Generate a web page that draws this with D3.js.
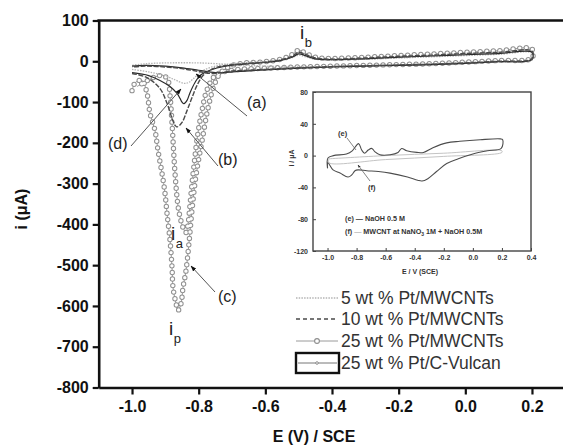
<!DOCTYPE html>
<html><head><meta charset="utf-8">
<script src="https://cdn.jsdelivr.net/npm/d3@7"></script>
<style>
html,body{margin:0;padding:0;background:#fff;}
svg{display:block;font-family:"Liberation Sans",Arial,sans-serif;}
</style></head>
<body>
<svg id="chart" width="563" height="448"></svg>
<script>
// ---------- DATA (E in V vs SCE, i in µA) ----------
const xTicks = [-1.0, -0.8, -0.6, -0.4, -0.2, 0.0, 0.2];
const yTicks = [-800, -700, -600, -500, -400, -300, -200, -100, 0, 100];
const legendLabels = ["5 wt % Pt/MWCNTs", "10 wt % Pt/MWCNTs", "25 wt % Pt/MWCNTs", "25 wt % Pt/C-Vulcan"];

// (a) 5 wt % Pt/MWCNTs
const curveA = [[-1.0,-20],[-0.95,-26],[-0.9,-36],[-0.87,-46],[-0.845,-54],[-0.83,-52],[-0.81,-38],[-0.79,-24],[-0.76,-14],[-0.72,-8],[-0.65,-3],[-0.6,-1],[-0.55,3],[-0.52,9],[-0.5,15],[-0.48,11],[-0.45,5],[-0.4,3],[-0.3,5],[-0.2,8],[-0.1,11],[0.0,14],[0.1,17],[0.2,20],
  [0.2,3],[0.1,-2],[0.0,-5],[-0.1,-8],[-0.2,-10],[-0.3,-12],[-0.4,-13],[-0.5,-14],[-0.6,-12],[-0.7,-8],[-0.8,-4],[-0.9,-4],[-0.96,-6],[-1.0,-10]];
// (b) 10 wt % Pt/MWCNTs
const curveB = [[-1.0,-30],[-0.955,-40],[-0.916,-67],[-0.895,-103],[-0.88,-140],[-0.871,-157],[-0.865,-161],[-0.85,-150],[-0.835,-121],[-0.82,-89],[-0.805,-59],[-0.787,-35],[-0.757,-18],[-0.715,-10],[-0.65,-5],[-0.6,-2],[-0.55,4],[-0.52,12],[-0.5,22],[-0.48,17],[-0.45,8],[-0.4,5],[-0.3,8],[-0.2,12],[-0.1,15],[0.0,19],[0.1,22],[0.2,25],
  [0.2,6],[0.1,0],[0.0,-4],[-0.1,-7],[-0.2,-9],[-0.3,-11],[-0.4,-13],[-0.5,-16],[-0.6,-20],[-0.7,-24],[-0.76,-30],[-0.8,-25],[-0.85,-18],[-0.9,-14],[-0.96,-12],[-1.0,-14]];
// (c) 25 wt % Pt/MWCNTs
const curveC = [[-1.0,-72],[-0.99,-52],[-0.97,-47],[-0.955,-79],[-0.946,-128],[-0.931,-170],[-0.922,-219],[-0.91,-275],[-0.901,-324],[-0.895,-373],[-0.886,-439],[-0.88,-506],[-0.877,-555],[-0.868,-594],[-0.862,-611],[-0.853,-594],[-0.847,-555],[-0.838,-513],[-0.829,-445],[-0.82,-365],[-0.808,-280],[-0.79,-196],[-0.772,-115],[-0.754,-60],[-0.736,-30],[-0.706,-12],[-0.66,-4],[-0.6,-1],[-0.55,6],[-0.52,16],[-0.5,27],[-0.48,20],[-0.45,10],[-0.4,7],[-0.3,10],[-0.2,14],[-0.1,18],[0.0,22],[0.1,26],[0.2,30],
  [0.2,8],[0.1,2],[0.0,-2],[-0.1,-6],[-0.2,-8],[-0.3,-10],[-0.4,-12],[-0.5,-14],[-0.6,-17],[-0.7,-22],[-0.75,-35],[-0.775,-70],[-0.79,-120],[-0.803,-180],[-0.812,-240],[-0.82,-300],[-0.827,-360],[-0.832,-400],[-0.838,-420],[-0.847,-408],[-0.855,-385],[-0.862,-355],[-0.871,-275],[-0.88,-152],[-0.886,-84],[-0.892,-47],[-0.905,-35],[-0.93,-38],[-0.96,-50],[-0.985,-62]];
// (d) 25 wt % Pt/C-Vulcan
const curveD = [[-1.0,-28],[-0.95,-35],[-0.916,-47],[-0.886,-62],[-0.865,-79],[-0.856,-91],[-0.85,-100],[-0.844,-104],[-0.835,-96],[-0.826,-77],[-0.811,-52],[-0.796,-35],[-0.766,-22],[-0.72,-12],[-0.65,-6],[-0.6,-3],[-0.55,3],[-0.52,10],[-0.5,18],[-0.48,14],[-0.45,6],[-0.4,4],[-0.3,6],[-0.2,10],[-0.1,13],[0.0,16],[0.1,19],[0.2,22],
  [0.2,4],[0.1,-1],[0.0,-5],[-0.1,-8],[-0.2,-10],[-0.3,-12],[-0.4,-14],[-0.5,-17],[-0.6,-21],[-0.7,-26],[-0.75,-28],[-0.8,-22],[-0.85,-16],[-0.9,-12],[-0.96,-10],[-1.0,-12]];

// Inset
const insetXTicks = [-1.0, -0.8, -0.6, -0.4, -0.2, 0.0, 0.2, 0.4];
const insetYTicks = [-120, -80, -40, 0, 40, 80];
// (e) NaOH 0.5 M
const curveE = [[-1.0,-16],[-0.997,-3],[-0.96,0],[-0.87,2],[-0.83,6],[-0.8,13],[-0.785,15],[-0.765,7],[-0.745,3],[-0.72,7],[-0.695,9],[-0.675,5],[-0.64,1],[-0.57,1],[-0.515,4],[-0.49,9],[-0.455,6],[-0.385,4],[-0.34,4],[-0.275,10],[-0.18,16],[-0.09,18],[0.05,20],[0.19,21],[0.205,20],
  [0.195,9],[0.1,6],[0.0,2],[-0.1,-4],[-0.18,-10],[-0.25,-20],[-0.31,-29],[-0.35,-32],[-0.38,-31],[-0.45,-27],[-0.57,-22],[-0.65,-20],[-0.73,-19],[-0.79,-18],[-0.811,-19],[-0.832,-24],[-0.859,-27],[-0.914,-22],[-0.962,-18],[-0.997,-9],[-1.0,-16]];
// (f) MWCNT at NaNO3 1M + NaOH 0.5M
const curveF = [[-0.99,-4],[-0.6,0],[-0.2,3],[0.2,6],[0.2,4],[-0.2,-1],[-0.6,-5],[-0.99,-9],[-0.99,-4]];

// ---------- DRAW ----------
const svg = d3.select("#chart");
const FONT = '"Liberation Sans",Arial,sans-serif';

const x = d3.scaleLinear().domain([-1.1, 0.3]).range([98.7, 565.3]);
const y = d3.scaleLinear().domain([-800, 100]).range([387.5, 20.5]);

const line = d3.line().x(d => x(d[0])).y(d => y(d[1])).curve(d3.curveCatmullRom.alpha(0.5));

// defs: arrowhead
const defs = svg.append("defs");
defs.append("marker").attr("id","arr").attr("viewBox","0 0 10 10").attr("refX",9).attr("refY",5)
  .attr("markerWidth",6).attr("markerHeight",6).attr("orient","auto")
  .append("path").attr("d","M0,1.5 L10,5 L0,8.5 Z").attr("fill","#111");
defs.append("marker").attr("id","arrS").attr("viewBox","0 0 10 10").attr("refX",9).attr("refY",5)
  .attr("markerWidth",4).attr("markerHeight",4).attr("orient","auto")
  .append("path").attr("d","M0,1.5 L10,5 L0,8.5 Z").attr("fill","#222");

// curves
const gC = svg.append("g");
// (c) with hollow circle markers (line, grey dots, white centres)
gC.append("path").attr("d", line(curveC)).attr("fill","none").attr("stroke","#9a9a9a").attr("stroke-width",1);
gC.append("path").attr("d", line(curveC)).attr("fill","none").attr("stroke","#909090").attr("stroke-width",5.4)
  .attr("stroke-linecap","round").attr("stroke-dasharray","0 6.6");
gC.append("path").attr("d", line(curveC)).attr("fill","none").attr("stroke","#fff").attr("stroke-width",3.4)
  .attr("stroke-linecap","round").attr("stroke-dasharray","0 6.6");

svg.append("path").attr("d", line(curveA)).attr("fill","none").attr("stroke","#b4b4b4").attr("stroke-width",1.3)
  .attr("stroke-dasharray","1.5 1.2");
svg.append("path").attr("d", line(curveD)).attr("fill","none").attr("stroke","#2a2a2a").attr("stroke-width",1.2);
svg.append("path").attr("d", line(curveB)).attr("fill","none").attr("stroke","#4a4a4a").attr("stroke-width",1.4)
  .attr("stroke-dasharray","5 1.5");

// axes
const yAxis = d3.axisLeft(y).tickValues(yTicks).tickSize(6).tickSizeOuter(0).tickPadding(4).tickFormat(d => String(d));
const gy = svg.append("g").attr("transform", `translate(${x(-1.1)},0)`).call(yAxis);
const xAxis = d3.axisBottom(x).tickValues(xTicks).tickSize(7).tickSizeOuter(0).tickPadding(6).tickFormat(d => d.toFixed(1));
const gx = svg.append("g").attr("transform", `translate(0,${y(-800)})`).call(xAxis);
[gy, gx].forEach(g => {
  g.select(".domain").attr("stroke","#111").attr("stroke-width",2.6);
  g.selectAll(".tick line").attr("stroke","#111").attr("stroke-width",2.2);
  g.selectAll(".tick text").attr("fill","#111").attr("font-size",16).attr("font-weight","bold").attr("font-family",FONT);
});
// top frame line
svg.append("line").attr("x1", x(-1.1)-1.3).attr("x2", 563).attr("y1", y(100)).attr("y2", y(100))
  .attr("stroke","#111").attr("stroke-width",2.6);

// axis titles
svg.append("text").attr("x",314).attr("y",442).attr("text-anchor","middle")
  .attr("font-size",16).attr("font-weight","bold").attr("fill","#111").attr("font-family",FONT).text("E (V) / SCE");
svg.append("text").attr("transform","translate(27,209) rotate(-90)").attr("text-anchor","middle")
  .attr("font-size",16).attr("font-weight","bold").attr("fill","#111").attr("font-family",FONT).text("i  (μA)");

// annotations
function ann(x1,y1,x2,y2){
  svg.append("line").attr("x1",x1).attr("y1",y1).attr("x2",x2).attr("y2",y2)
    .attr("stroke","#555").attr("stroke-width",1).attr("marker-end","url(#arr)");
}
ann(247,116,196,74);
ann(131,146,181,89);
ann(218,166,186,128);
ann(215,292,191,266);
function lbl(tx,ty,t,fs){
  svg.append("text").attr("x",tx).attr("y",ty).attr("font-size",fs||16).attr("fill","#222").attr("font-family",FONT).text(t);
}
lbl(247,108,"(a)");
lbl(108,149,"(d)");
lbl(218,165,"(b)");
lbl(218,302,"(c)");
function sub(tx,ty,main,s){
  const t = svg.append("text").attr("x",tx).attr("y",ty).attr("fill","#222").attr("font-family",FONT).attr("font-size",19);
  t.append("tspan").text(main);
  t.append("tspan").attr("font-size",13).attr("dy",8).attr("dx",0.5).text(s);
}
sub(300,39,"i","b");
sub(171,240,"i","a");
sub(169,335,"i","p");

// legend
const lg = svg.append("g");
const rowsY = [298, 319, 341, 363];
const lx1 = 296, lx2 = 338;
lg.append("line").attr("x1",lx1).attr("x2",lx2).attr("y1",rowsY[0]).attr("y2",rowsY[0])
  .attr("stroke","#b4b4b4").attr("stroke-width",1.3).attr("stroke-dasharray","1.5 1.2");
lg.append("line").attr("x1",lx1).attr("x2",lx2).attr("y1",rowsY[1]).attr("y2",rowsY[1])
  .attr("stroke","#4a4a4a").attr("stroke-width",1.3).attr("stroke-dasharray","4 3");
lg.append("line").attr("x1",lx1).attr("x2",lx2).attr("y1",rowsY[2]).attr("y2",rowsY[2])
  .attr("stroke","#9a9a9a").attr("stroke-width",1);
lg.append("circle").attr("cx",(lx1+lx2)/2).attr("cy",rowsY[2]).attr("r",2.4).attr("fill","#fff").attr("stroke","#8d8d8d").attr("stroke-width",1.1);
lg.append("rect").attr("x",lx1).attr("y",rowsY[3]-10).attr("width",lx2-lx1+1).attr("height",20)
  .attr("fill","#fff").attr("stroke","#111").attr("stroke-width",2.4);
lg.append("line").attr("x1",lx1+2).attr("x2",lx2-1).attr("y1",rowsY[3]).attr("y2",rowsY[3])
  .attr("stroke","#777").attr("stroke-width",1);
lg.append("circle").attr("cx",(lx1+lx2)/2).attr("cy",rowsY[3]).attr("r",1.3).attr("fill","#fff").attr("stroke","#777").attr("stroke-width",0.8);
legendLabels.forEach((t,i) => {
  lg.append("text").attr("x",341).attr("y",rowsY[i]+6).attr("font-size",17.5).attr("fill","#333")
    .attr("font-family",FONT).text(t);
});

// ---------- INSET ----------
const ix = d3.scaleLinear().domain([-1.1, 0.4]).range([313, 531]);
const iy = d3.scaleLinear().domain([-120, 80]).range([251, 92]);
const ig = svg.append("g");
ig.append("rect").attr("x",ix(-1.1)).attr("y",iy(80)).attr("width",ix(0.4)-ix(-1.1)).attr("height",iy(-120)-iy(80))
  .attr("fill","#fff").attr("stroke","#444").attr("stroke-width",1.4);
const iline = d3.line().x(d => ix(d[0])).y(d => iy(d[1])).curve(d3.curveCatmullRom.alpha(0.5));
ig.append("path").attr("d", iline(curveF)).attr("fill","none").attr("stroke","#c4c4c4").attr("stroke-width",1);
ig.append("path").attr("d", iline(curveE)).attr("fill","none").attr("stroke","#4d4d4d").attr("stroke-width",1.1);

const iyAxis = d3.axisLeft(iy).tickValues(insetYTicks).tickSize(-3).tickSizeOuter(0).tickPadding(5).tickFormat(d => String(d));
const ixAxis = d3.axisBottom(ix).tickValues(insetXTicks).tickSize(-3).tickSizeOuter(0).tickPadding(4).tickFormat(d => d.toFixed(1));
const giy = ig.append("g").attr("transform",`translate(${ix(-1.1)},0)`).call(iyAxis);
const gix = ig.append("g").attr("transform",`translate(0,${iy(-120)})`).call(ixAxis);
[giy, gix].forEach(g => {
  g.select(".domain").remove();
  g.selectAll(".tick line").attr("stroke","#444").attr("stroke-width",1);
  g.selectAll(".tick text").attr("fill","#333").attr("font-size",7).attr("font-weight","bold").attr("font-family",FONT);
});
ig.append("text").attr("transform","translate(294,158) rotate(-90)").attr("text-anchor","middle")
  .attr("font-size",7).attr("font-weight","bold").attr("fill","#333").attr("font-family",FONT).text("i / μA");
ig.append("text").attr("x",420).attr("y",274).attr("text-anchor","middle")
  .attr("font-size",7).attr("font-weight","bold").attr("fill","#333").attr("font-family",FONT).text("E  / V (SCE)");
// inset annotations
ig.append("line").attr("x1",347).attr("y1",138).attr("x2",356).attr("y2",150).attr("stroke","#666").attr("stroke-width",0.8);
ig.append("line").attr("x1",370).attr("y1",181).attr("x2",358).attr("y2",165).attr("stroke","#666").attr("stroke-width",0.8).attr("marker-end","url(#arrS)");
ig.append("text").attr("x",338).attr("y",136).attr("font-size",7.5).attr("font-weight","bold").attr("fill","#333").attr("font-family",FONT).text("(e)");
ig.append("text").attr("x",368).attr("y",190).attr("font-size",7.5).attr("font-weight","bold").attr("fill","#333").attr("font-family",FONT).text("(f)");
const t1 = ig.append("text").attr("x",345).attr("y",221).attr("font-size",7.2).attr("font-weight","bold").attr("fill","#333").attr("font-family",FONT);
t1.append("tspan").text("(e) ");
t1.append("tspan").attr("fill","#333").text("—");
t1.append("tspan").text(" NaOH 0.5 M");
const t2 = ig.append("text").attr("x",345).attr("y",234).attr("font-size",7.2).attr("font-weight","bold").attr("fill","#333").attr("font-family",FONT);
t2.append("tspan").text("(f) ");
t2.append("tspan").attr("fill","#bbb").text("—");
t2.append("tspan").text(" MWCNT at NaNO");
t2.append("tspan").attr("font-size",5).attr("dy",2).text("3");
t2.append("tspan").attr("dy",-2).text(" 1M + NaOH 0.5M");
</script>
</body></html>
